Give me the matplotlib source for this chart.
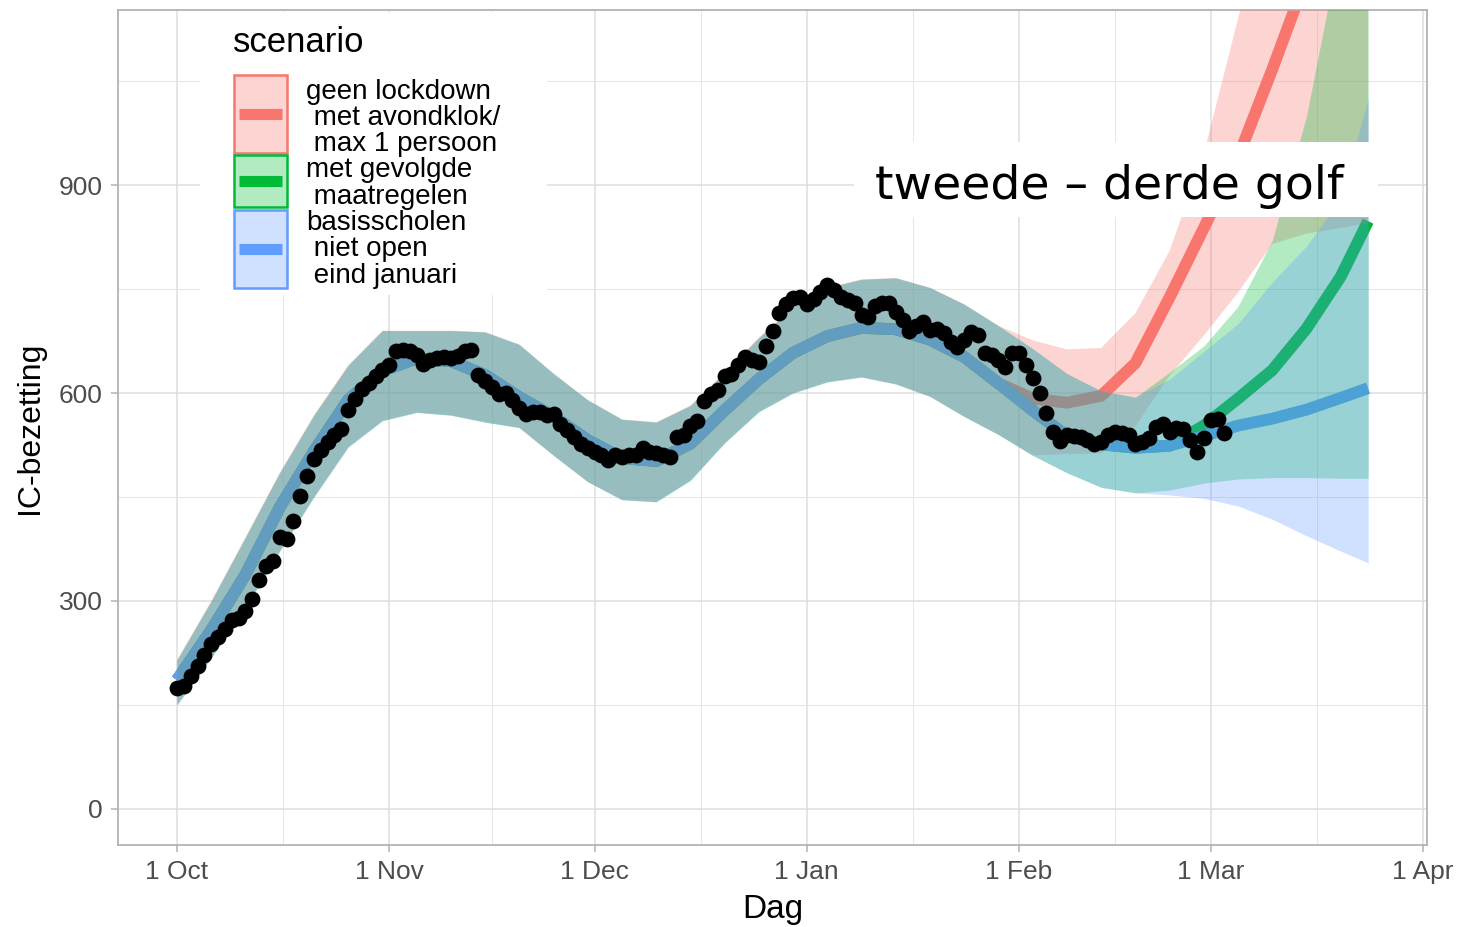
import numpy as np
import matplotlib
matplotlib.use('Agg')
import matplotlib.pyplot as plt
from matplotlib.patches import Rectangle
from matplotlib.lines import Line2D

# model grid: days since 1 Oct
days_shared = [0, 5, 10, 15, 20, 25, 30, 35, 40, 45, 50, 55, 60,
               65, 70, 75, 80, 85, 90, 95, 100, 105, 110, 115, 120]
days_tail = [125, 130, 135, 140, 145, 150, 155, 160, 165, 170, 174]

# shared part of the three scenarios (identical until early February)
line_shared = [186, 258, 338, 435, 516, 590, 632, 650, 646, 626, 594, 566, 532,
               506, 502, 527, 575, 620, 658, 682, 694, 692, 677, 652, 614]
upper_shared = [215, 300, 392, 485, 568, 640, 690, 690, 690, 688, 670, 628, 590,
                562, 558, 582, 630, 680, 724, 752, 764, 766, 752, 728, 697]
lower_shared = [150, 218, 290, 372, 450, 522, 560, 572, 568, 558, 550, 510, 472,
                446, 443, 474, 528, 573, 600, 616, 623, 613, 595, 566, 540]

# scenario tails
red_line = [592, 586, 596, 643, 738, 838, 940, 1067, 1200, 1300, 1400]
red_upper = [676, 663, 665, 715, 805, 945, 1140, 1330, 1500, 1650, 1750]
red_lower = [510, 512, 513, 552, 625, 683, 745, 815, 830, 838, 845]

green_line = [575, 538, 526, 521, 524, 553, 592, 633, 693, 768, 848]
green_upper = [664, 628, 603, 594, 630, 668, 725, 820, 1000, 1250, 1420]
green_lower = [510, 485, 464, 456, 460, 470, 476, 478, 478, 477, 477]

blue_line = [575, 538, 526, 521, 524, 538, 553, 563, 576, 593, 607]
blue_upper = [664, 628, 603, 594, 620, 660, 700, 760, 812, 880, 1025]
blue_lower = [510, 485, 464, 456, 453, 448, 437, 418, 394, 372, 355]

# observed IC occupancy, one value per day from 1 Oct
ic_obs = [175, 178, 192, 206, 222, 238, 248, 259, 272, 275, 285, 303, 330, 350,
          358, 393, 390, 415, 452, 480, 505, 518, 530, 540, 548, 576, 592, 606,
          615, 625, 633, 640, 660, 662, 660, 655, 642, 648, 651, 652, 650, 654,
          660, 662, 626, 618, 609, 598, 600, 590, 578, 570, 572, 573, 568, 570,
          556, 546, 536, 527, 520, 515, 510, 503, 511, 508, 511, 510, 521, 515,
          514, 510, 508, 537, 540, 552, 560, 588, 598, 604, 625, 627, 640, 652,
          648, 645, 668, 690, 715, 729, 737, 739, 729, 736, 745, 756, 749, 738,
          734, 730, 713, 710, 725, 730, 730, 717, 706, 690, 696, 703, 691, 692,
          686, 674, 667, 677, 688, 684, 657, 655, 648, 638, 657, 657, 640, 622,
          600, 571, 544, 531, 540, 538, 537, 532, 526, 530, 540, 544, 542, 539,
          527, 530, 535, 551, 556, 544, 550, 548, 532, 515, 535, 561, 563, 542]

month_days = [0, 31, 61, 92, 123, 151, 182]
month_labels = ["1 Oct", "1 Nov", "1 Dec", "1 Jan", "1 Feb", "1 Mar", "1 Apr"]

scen_colors = ["#F8766D", "#00BA38", "#619CFF"]
scen_labels = [["geen lockdown", " met avondklok/", " max 1 persoon"],
               ["met gevolgde", " maatregelen"],
               ["basisscholen", " niet open", " eind januari"]]

days = np.array(days_shared + days_tail)
scenarios = [
    (line_shared + red_line, lower_shared + red_lower, upper_shared + red_upper),
    (line_shared + green_line, lower_shared + green_lower, upper_shared + green_upper),
    (line_shared + blue_line, lower_shared + blue_lower, upper_shared + blue_upper),
]

W, H = 1461, 927
plt.rcParams['font.family'] = ['Liberation Sans', 'DejaVu Sans']
fig = plt.figure(figsize=(W / 100, H / 100), dpi=100)
ax = fig.add_axes([118 / W, 1 - 845 / H, (1427 - 118) / W, (845 - 10) / H])


def fx(x):
    return x / W


def fy(y):
    return 1 - y / H


# lines first, ribbons on top (as in the original ggplot)
for (ln, lo, hi), c in zip(scenarios, scen_colors):
    ax.plot(days, ln, color=c, lw=8.5, solid_capstyle='butt',
            solid_joinstyle='round', zorder=2)
for (ln, lo, hi), c in zip(scenarios, scen_colors):
    ax.fill_between(days, lo, hi, color=c, alpha=0.3, lw=0, zorder=3)

ax.scatter(np.arange(len(ic_obs)), ic_obs, s=130, color='black', lw=0, zorder=4)

ax.set_xlim(-8.62, 182.6)
ax.set_ylim(-52, 1152.5)
ax.set_xticks(month_days)
ax.set_xticklabels(month_labels)
ax.set_xticks([(a + b) / 2 for a, b in zip(month_days[:-1], month_days[1:])], minor=True)
ax.set_yticks([0, 300, 600, 900])
ax.set_yticks([150, 450, 750, 1050], minor=True)

ax.grid(True, which='major', color='#DEDEDE', lw=1.1)
ax.grid(True, which='minor', color='#E6E6E6', lw=0.7)
ax.set_axisbelow(True)
for sp in ax.spines.values():
    sp.set_color('#B3B3B3')
    sp.set_linewidth(1.3)
ax.tick_params(which='major', length=5, width=1.1, color='#B3B3B3',
               labelcolor='#4D4D4D', labelsize=19, pad=6)
ax.tick_params(which='minor', length=0)
ax.set_xlabel("Dag", fontsize=24, labelpad=7)
ax.set_ylabel("IC-bezetting", fontsize=23, labelpad=10)

# legend (ggplot style)
fig.add_artist(Rectangle((fx(200), fy(295)), fx(547 - 200), (295 - 12) / H,
                         transform=fig.transFigure, facecolor='white', edgecolor='none', zorder=5))
fig.text(fx(233), fy(52), "scenario", fontsize=25, color='black', va='baseline', zorder=6)
key_boxes = [(75, 153), (155, 207), (210, 288)]
label_base = [[99, 125, 151], [177, 204], [230, 256, 283]]
for c, (y0, y1), lines, bases in zip(scen_colors, key_boxes, scen_labels, label_base):
    fig.add_artist(Rectangle((fx(234), fy(y1)), fx(287 - 234), (y1 - y0) / H,
                             transform=fig.transFigure, facecolor=c, alpha=0.3,
                             edgecolor='none', zorder=6))
    fig.add_artist(Rectangle((fx(234), fy(y1)), fx(287 - 234), (y1 - y0) / H,
                             transform=fig.transFigure, facecolor='none',
                             edgecolor=c, lw=1.8, zorder=7))
    yc = (y0 + y1) / 2
    fig.add_artist(Line2D([fx(239), fx(282)], [fy(yc), fy(yc)], transform=fig.transFigure,
                          color=c, lw=8, solid_capstyle='butt', zorder=7))
    for txt, b in zip(lines, bases):
        fig.text(fx(306), fy(b), txt, fontsize=20, color='black', va='baseline', zorder=7)

# annotation box
fig.add_artist(Rectangle((fx(854), fy(217)), fx(1378 - 854), (217 - 142) / H,
                         transform=fig.transFigure, facecolor='white', edgecolor='none', zorder=5))
fig.text(fx(1109), fy(199), "tweede \u2013 derde golf", fontsize=34, family='DejaVu Sans',
         color='black', ha='center', va='baseline', zorder=6)

fig.savefig("out.png", dpi=100)
